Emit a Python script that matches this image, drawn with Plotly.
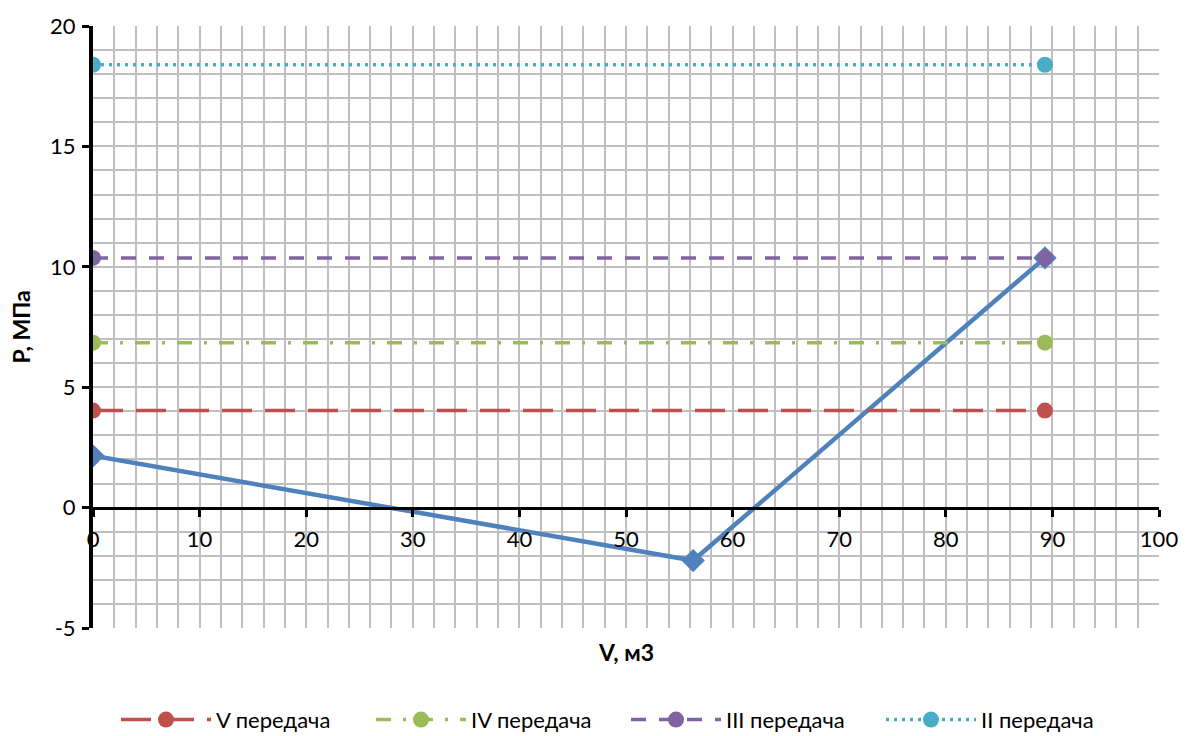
import plotly.graph_objects as go

# Volume range of the gear lines
v_gear = [0, 89.3]

# Pressure levels per gear, MPa
p_v = [4.03, 4.03]
p_iv = [6.85, 6.85]
p_iii = [10.37, 10.37]
p_ii = [18.39, 18.39]

# Working curve
v_curve = [0, 56.3, 89.3]
p_curve = [2.15, -2.2, 10.37]

# Axis tick labels
x_ticks = [0, 10, 20, 30, 40, 50, 60, 70, 80, 90, 100]
y_ticks = [-5, 0, 5, 10, 15, 20]

gear_names = ["V передача", "IV передача", "III передача", "II передача"]
gear_colors = ["#c0504d", "#9bbb59", "#8064a2", "#4bacc6"]
gear_dashes = ["30px,13px", "15px,12px,3px,12px", "15px,13px", "3px,5px"]
gear_levels = [p_v, p_iv, p_iii, p_ii]

FONT = "Lato, Open Sans, sans-serif"

W, H = 1190, 736
ML, MR, MT, MB = 93, 22, 24, 108
PW, PH = W - ML - MR, H - MT - MB

fig = go.Figure()

fig.add_trace(go.Scatter(
    x=v_curve, y=p_curve, mode="lines+markers",
    line=dict(color="#4f81bd", width=4.5),
    marker=dict(symbol="diamond", size=18, color="#4f81bd"),
    showlegend=False,
))

for name, color, dash, levels in zip(gear_names, gear_colors, gear_dashes, gear_levels):
    fig.add_trace(go.Scatter(
        x=v_gear, y=levels, mode="lines+markers", name=name,
        line=dict(color=color, width=3.5, dash=dash),
        marker=dict(symbol="circle", size=16, color=color),
    ))

grid = "#bfbfbf"

fig.update_layout(
    width=W, height=H,
    margin=dict(l=ML, r=MR, t=MT, b=MB),
    plot_bgcolor="white", paper_bgcolor="white",
    font=dict(family=FONT, size=22, color="black"),
    xaxis=dict(
        range=[0, 100],
        tickmode="array", tickvals=x_ticks, ticktext=[str(v) for v in x_ticks],
        showgrid=True, gridcolor=grid, gridwidth=1.5,
        minor=dict(dtick=2, tick0=0, showgrid=True, gridcolor=grid, gridwidth=1.5),
        zeroline=False,
        showline=True, linecolor="black", linewidth=3,
        anchor="free", position=0.2,
        ticks="outside", ticklen=7, tickwidth=3, tickcolor="black",
        ticklabelstandoff=4,
        tickfont=dict(size=22, family=FONT, color="black"),
    ),
    yaxis=dict(
        range=[-5, 20],
        tickmode="array", tickvals=y_ticks, ticktext=[str(v) for v in y_ticks],
        showgrid=True, gridcolor=grid, gridwidth=1.5,
        minor=dict(dtick=1, tick0=0, showgrid=True, gridcolor=grid, gridwidth=1.5),
        zeroline=False,
        showline=True, linecolor="black", linewidth=4,
        ticks="outside", ticklen=7, tickwidth=3, tickcolor="black",
        ticklabelstandoff=2,
        tickfont=dict(size=22, family=FONT, color="black"),
    ),
    legend=dict(
        orientation="h", x=0.5, xanchor="center",
        yref="container", y=0.022, yanchor="middle",
        font=dict(size=22, family=FONT, color="black"),
        itemwidth=90, entrywidth=150, entrywidthmode="pixels",
        tracegroupgap=0,
    ),
    annotations=[
        dict(text="<b>V, м3</b>", xref="paper", yref="paper",
             x=0.5, y=(H - MB - 652) / PH, xanchor="center", yanchor="middle",
             showarrow=False, font=dict(size=23, family=FONT)),
        dict(text="<b>P, МПа</b>", xref="paper", yref="paper",
             x=(20 - ML) / PW, y=0.5, xanchor="center", yanchor="middle",
             textangle=-90, showarrow=False, font=dict(size=23, family=FONT)),
    ],
)

fig.write_html("out.html")
